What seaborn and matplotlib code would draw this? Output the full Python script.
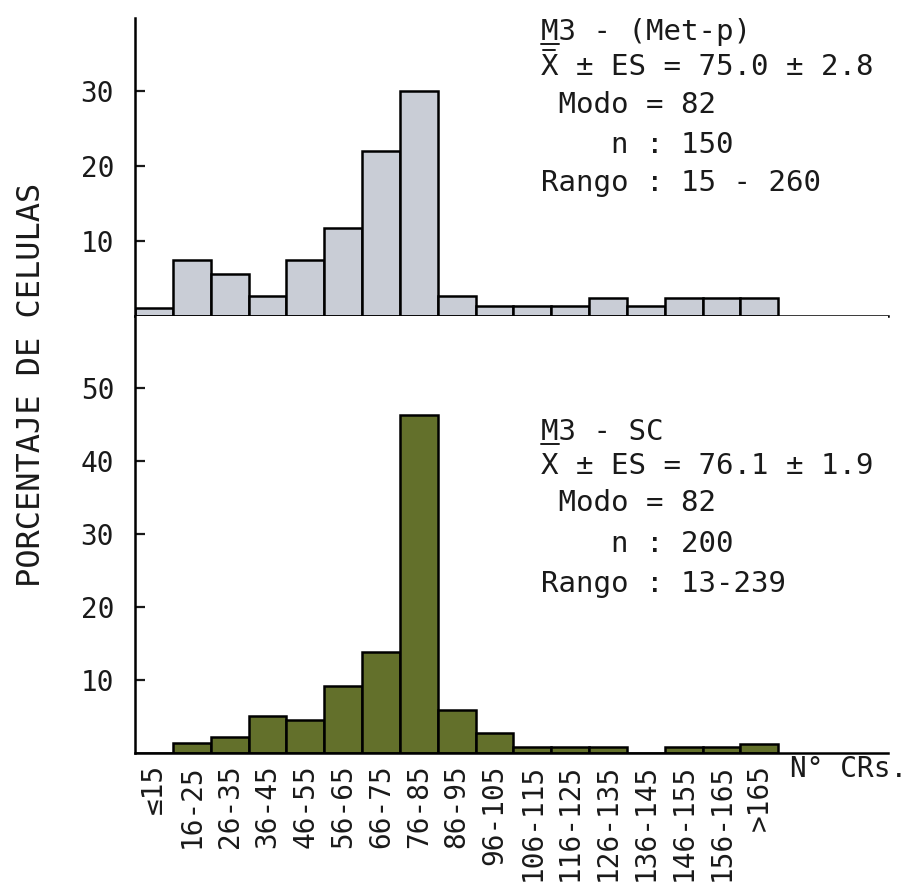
import matplotlib
matplotlib.use('Agg')
import matplotlib.pyplot as plt
from matplotlib.lines import Line2D
import seaborn as sns

# Clases de N° de CRs por celula
categorias = ["≤15", "16-25", "26-35", "36-45", "46-55", "56-65", "66-75",
              "76-85", "86-95", "96-105", "106-115", "116-125", "126-135",
              "136-145", "146-155", "156-165", ">165"]

# Porcentaje de celulas - M3 (Met-p), panel superior
pct_met_p = [1.1, 7.5, 5.6, 2.7, 7.5, 11.7, 22.0, 30.0, 2.7,
             1.3, 1.3, 1.3, 2.4, 1.3, 2.4, 2.4, 2.4]

# Porcentaje de celulas - M3 SC, panel inferior
pct_sc = [0.0, 1.4, 2.2, 5.1, 4.5, 9.2, 13.9, 46.3, 5.9,
          2.8, 0.8, 0.8, 0.8, 0.0, 0.8, 0.8, 1.3]

# Textos de resumen de cada panel
texto_met_p = ["M3 - (Met-p)", "X ± ES = 75.0 ± 2.8", " Modo = 82",
               "    n : 150", "Rango : 15 - 260"]
texto_sc = ["M3 - SC", "X ± ES = 76.1 ± 1.9", " Modo = 82",
            "    n : 200", "Rango : 13-239"]

sns.set_theme(style='ticks')
plt.rcParams['font.family'] = ['DejaVu Sans Mono', 'DejaVu Sans']
plt.rcParams['text.color'] = '#1a1a1a'
plt.rcParams['xtick.color'] = '#1a1a1a'
plt.rcParams['ytick.color'] = '#1a1a1a'

W, H = 922, 893
fig = plt.figure(figsize=(W / 100, H / 100), dpi=100)
ax_top = fig.add_axes([135 / W, 1 - 316 / H, 753 / W, 298 / H])
ax_bot = fig.add_axes([135 / W, 1 - 753 / H, 753 / W, 437 / H])


# Funcion para dibujar un panel de barras
def dibujar_panel(ax, valores, color, ymax, yticks):
    sns.barplot(x=categorias, y=valores, color=color, saturation=1, width=1.0,
                edgecolor='black', linewidth=1.8, ax=ax)
    ax.set_xlim(-0.5, 19.4)
    ax.set_ylim(0, ymax)
    ax.set_yticks(yticks)
    ax.set_xlabel('')
    ax.set_ylabel('')
    sns.despine(ax=ax, top=True, right=True)
    for s in ['left', 'bottom']:
        ax.spines[s].set_linewidth(1.8)
        ax.spines[s].set_color('black')
    ax.tick_params(axis='y', direction='in', length=7, width=1.6,
                   labelsize=20, pad=15)


# Funcion para el texto de resumen (linea por linea)
def escribir_resumen(lineas, bases, barra_x=True):
    fs = 21
    for linea, yb in zip(lineas, bases):
        fig.text(541 / W, 1 - yb / H, linea, fontsize=fs, va='baseline', ha='left')
    adv = fs * 0.602 * 100 / 72
    # subrayado de la M
    fig.add_artist(Line2D([541 / W, (541 + adv) / W], [1 - (bases[0] + 4) / H] * 2,
                          color='#1a1a1a', lw=1.4))
    # barra sobre la X (media)
    if barra_x:
        yb = bases[1] - fs * 0.74 * 100 / 72 - 3
        fig.add_artist(Line2D([543 / W, (537 + adv) / W], [1 - yb / H] * 2,
                              color='#1a1a1a', lw=1.4))


dibujar_panel(ax_top, pct_met_p, '#c9cdd6', 39.7, [10, 20, 30])
dibujar_panel(ax_bot, pct_sc, '#63702b', 59.9, [10, 20, 30, 40, 50])

ax_top.tick_params(axis='x', bottom=False, labelbottom=False)
ax_bot.tick_params(axis='x', length=0, labelsize=20, pad=8, rotation=90)

escribir_resumen(texto_met_p, [40, 75, 113, 153, 191], barra_x=True)
escribir_resumen(texto_sc, [440, 474, 511, 552, 592], barra_x=False)

fig.text(790 / W, 1 - 777 / H, "N° CRs.", fontsize=20, va='baseline', ha='left')
fig.text(32 / W, 1 - 385 / H, "PORCENTAJE DE CELULAS", rotation=90,
         va='center', ha='center', fontsize=23)

fig.savefig('out.png', dpi=100)
